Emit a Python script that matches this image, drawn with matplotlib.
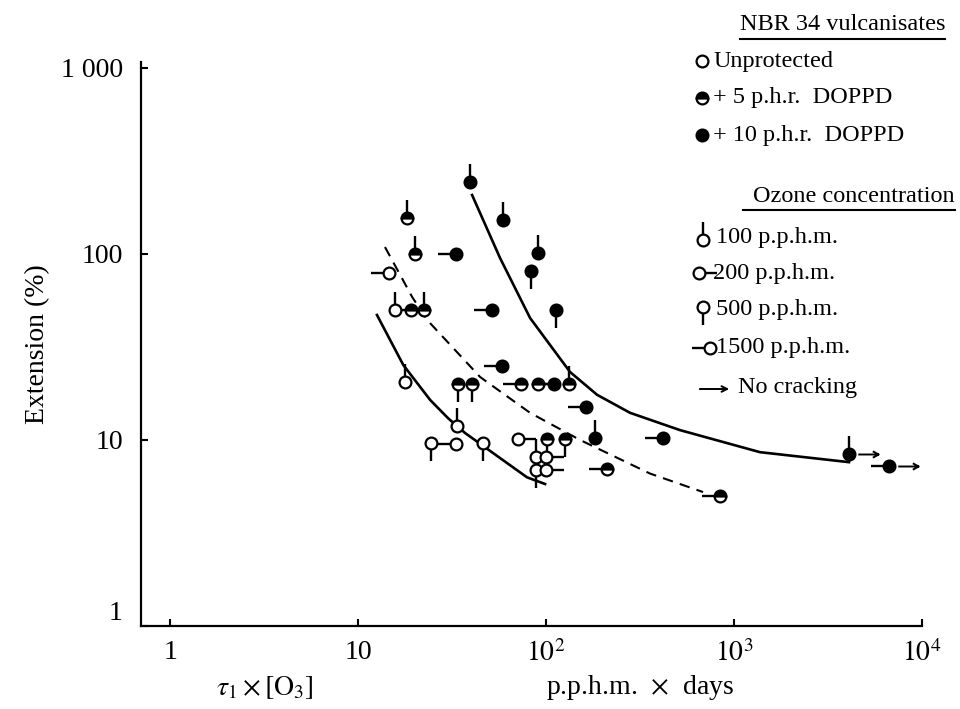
import matplotlib.pyplot as plt
from matplotlib.path import Path

plt.rcParams['font.family'] = ['Liberation Serif', 'DejaVu Serif']
plt.rcParams['mathtext.fontset'] = 'stix'

# curves drawn through the data
upper_x = [40.4, 56.9, 82.2, 134.2, 186.8, 279.8, 516, 1375, 4090]
upper_y = [207.6, 95.2, 45.3, 23.2, 17.5, 14.0, 11.3, 8.6, 7.6]
lower_x = [12.6, 17.4, 24.2, 30.1, 37.1, 56.9, 79.2, 98.8]
lower_y = [47.0, 25.3, 16.4, 13.1, 10.9, 8.0, 6.3, 5.8]
dash_x = [13.9, 19.4, 23.3, 44.6, 82.2, 151.7, 357.4, 684]
dash_y = [109, 58.7, 44.2, 21.8, 14.0, 10.0, 6.6, 5.25]

# points: protection 0 = unprotected, 5 / 10 = p.h.r. DOPPD; ozone in p.p.h.m.
pt_x = [14.6, 18.2, 20.1, 15.7, 19.1, 22.4, 17.8, 34.0, 40.4, 33.6,
        24.4, 33.2, 46.2, 71, 101, 126, 88.5, 100, 88.5, 100,
        39.4, 59, 90.6, 83, 33.2, 113, 51.6, 58.3, 73.6, 90.6,
        110, 132, 163, 182, 419, 211, 843, 4090, 6670]
pt_y = [79, 156, 100, 50, 50, 50, 20.5, 20, 20, 11.9,
        9.6, 9.5, 9.6, 10.1, 10.1, 10.1, 8.1, 8.1, 6.9, 6.9,
        244, 152, 101, 81, 100, 50, 50, 25, 20, 20,
        20, 20, 15, 10.3, 10.3, 7.0, 5.0, 8.4, 7.25]
pt_prot = [0, 5, 5, 0, 5, 5, 0, 5, 5, 0,
           0, 0, 0, 0, 5, 5, 0, 0, 0, 0,
           10, 10, 10, 10, 10, 10, 10, 10, 5, 5,
           10, 5, 10, 10, 10, 5, 5, 10, 10]
pt_ozone = [1500, 100, 100, 100, 1500, 100, 100, 500, 500, 100,
            500, 1500, 500, 200, 500, 500, 100, 200, 500, 200,
            100, 100, 100, 500, 1500, 500, 1500, 1500, 1500, 200,
            1500, 100, 1500, 100, 1500, 1500, 1500, 100, 1500]
pt_nocrack = [4090, 6670]

# marker shapes
tails = {
    100: Path([(0, 0.3), (0, 1)], [Path.MOVETO, Path.LINETO]),
    200: Path([(0.3, 0), (1, 0)], [Path.MOVETO, Path.LINETO]),
    500: Path([(0, -0.3), (0, -1)], [Path.MOVETO, Path.LINETO]),
    1500: Path([(-0.3, 0), (-1, 0)], [Path.MOVETO, Path.LINETO]),
}
arrow = Path([(0.3, 0), (1, 0), (0.8, 0.11), (1, 0), (0.8, -0.11)],
             [Path.MOVETO, Path.LINETO, Path.MOVETO, Path.LINETO, Path.LINETO])


def symbol(ax, x, y, prot, ozone=None, nocrack=False):
    if ozone is not None:
        ax.plot(x, y, marker=tails[ozone], ms=26, mew=1.7, color='black',
                fillstyle='none', zorder=4, clip_on=False)
    if nocrack:
        ax.plot(x, y, marker=arrow, ms=42, mew=1.4, color='black',
                fillstyle='none', zorder=4, clip_on=False)
    if prot == 0:
        kw = dict(mfc='white')
    elif prot == 5:
        kw = dict(mfc='black', fillstyle='top', markerfacecoloralt='white')
    else:
        kw = dict(mfc='black')
    ax.plot(x, y, marker='o', ms=8.5, mew=1.6, mec='black', zorder=5,
            clip_on=False, **kw)


fig = plt.figure(figsize=(9.6, 7.09), dpi=100)
ax = fig.add_axes([141 / 960, 1 - 626 / 709, 781 / 960, 564 / 709])
ax.set_xscale('log')
ax.set_yscale('log')
ax.set_xlim(0.70, 10000)
ax.set_ylim(1, 1077)

ax.plot(upper_x, upper_y, color='black', lw=1.9, zorder=2)
ax.plot(lower_x, lower_y, color='black', lw=1.9, zorder=2)
ax.plot(dash_x, dash_y, color='black', lw=1.5, dashes=(5, 3.5), zorder=2)

for x, y, p, oz in zip(pt_x, pt_y, pt_prot, pt_ozone):
    symbol(ax, x, y, p, oz, x in pt_nocrack)

for s in ['top', 'right']:
    ax.spines[s].set_visible(False)
for s in ['left', 'bottom']:
    ax.spines[s].set_linewidth(1.6)

ax.set_xticks([1, 10, 100, 1000, 10000])
ax.set_xticklabels(['1', '10', r'$10^2$', r'$10^3$', r'$10^4$'])
ax.set_yticks([1, 10, 100, 1000])
ax.set_yticklabels(['1', '10', '100', '1 000'])
ax.minorticks_off()
ax.tick_params(direction='in', length=5, width=1.5, labelsize=20)
ax.tick_params(axis='y', pad=13)
ax.tick_params(axis='x', pad=10)
ax.get_yticklabels()[0].set_verticalalignment('bottom')
ax.set_ylabel('Extension (%)', fontsize=20, labelpad=8)

# overlay in pixel coordinates for the legend and axis titles
ov = fig.add_axes([0, 0, 1, 1], facecolor='none')
ov.set_xlim(0, 960)
ov.set_ylim(709, 0)
ov.axis('off')

ov.text(265, 688, r'$\tau_1 \times [\mathrm{O}_3]$', fontsize=20, ha='center', va='center')
ov.text(640, 688, r'p.p.h.m.  $\times$  days', fontsize=20, ha='center', va='center')

fs = 17.5
t = ov.text(945, 25, 'NBR 34 vulcanisates', fontsize=fs, va='center', ha='right')
fig.canvas.draw()
bb = t.get_window_extent().transformed(ov.transData.inverted())
ov.plot([bb.x0, 945], [39, 39], color='black', lw=1.5)
ov.text(714, 61, 'Unprotected', fontsize=fs, va='center')
ov.text(713, 98, '+ 5 p.h.r.  DOPPD', fontsize=fs, va='center')
ov.text(713, 135, '+ 10 p.h.r.  DOPPD', fontsize=fs, va='center')
symbol(ov, 702, 61, 0)
symbol(ov, 702, 98, 5)
symbol(ov, 702, 135, 10)

ov.text(955, 196, 'Ozone concentration', fontsize=fs, va='center', ha='right')
ov.plot([743, 955], [210, 210], color='black', lw=1.5)
ov.text(716, 237, '100 p.p.h.m.', fontsize=fs, va='center')
ov.text(713, 273, '200 p.p.h.m.', fontsize=fs, va='center')
ov.text(716, 309, '500 p.p.h.m.', fontsize=fs, va='center')
ov.text(716, 348, '1500 p.p.h.m.', fontsize=fs, va='center')
ov.text(738, 388, 'No cracking', fontsize=fs, va='center')
symbol(ov, 703, 240, 0, 100)
symbol(ov, 699, 273, 0, 200)
symbol(ov, 703, 307, 0, 500)
symbol(ov, 710, 348, 0, 1500)
ov.annotate('', xy=(732, 389), xytext=(697, 389),
            arrowprops=dict(arrowstyle='->', lw=1.4, color='black'))

fig.savefig('out.png', dpi=100)
